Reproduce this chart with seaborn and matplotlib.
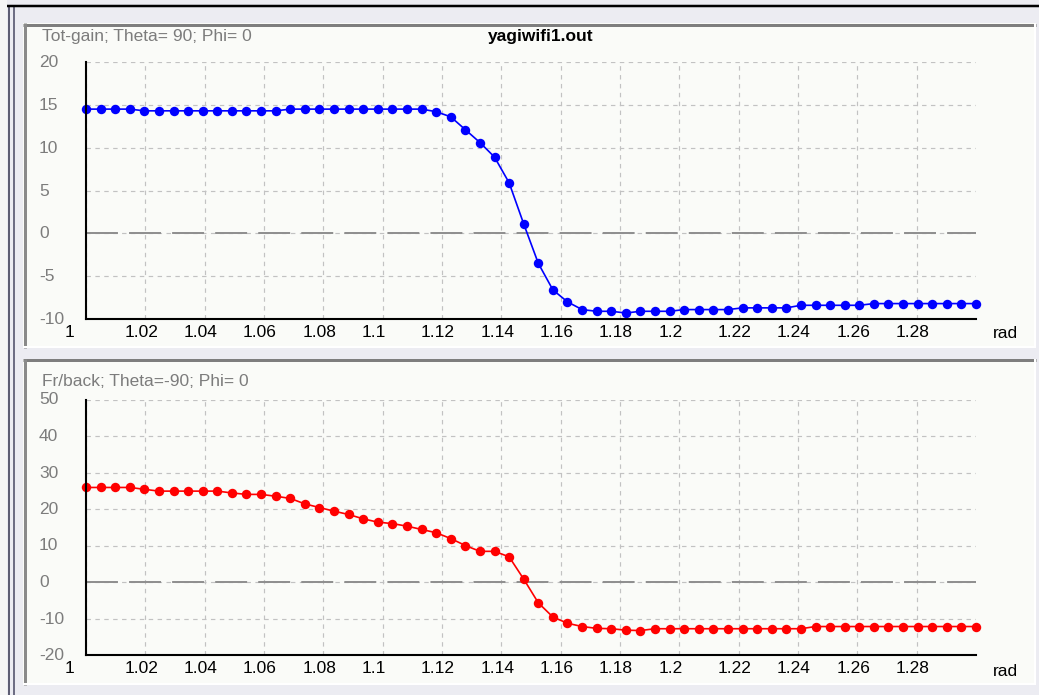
import numpy as np
import matplotlib
matplotlib.use("Agg")
import matplotlib.pyplot as plt
import matplotlib.transforms as mtransforms
from matplotlib.patches import Rectangle
from matplotlib.lines import Line2D
import seaborn as sns

# Sweep of the antenna parameter (rad) and the two computed responses
sweep_start = 1.0
sweep_stop = 1.3

tot_gain = [
    14.5, 14.5, 14.5, 14.5, 14.3, 14.3, 14.3, 14.3, 14.3, 14.3,
    14.3, 14.3, 14.3, 14.3, 14.5, 14.5, 14.5, 14.5, 14.5, 14.5,
    14.5, 14.5, 14.5, 14.5, 14.2, 13.6, 12.1, 10.6, 8.9, 5.9,
    1.1, -3.5, -6.6, -8.0, -8.9, -9.1, -9.1, -9.3, -9.1, -9.1,
    -9.1, -8.9, -8.9, -8.9, -8.9, -8.7, -8.7, -8.7, -8.7, -8.4,
    -8.4, -8.4, -8.4, -8.4, -8.2, -8.2, -8.2, -8.2, -8.2, -8.2,
    -8.2, -8.2,
]

front_back = [
    25.9, 25.9, 25.9, 25.9, 25.4, 24.9, 24.9, 24.9, 24.9, 24.9,
    24.4, 24.0, 24.0, 23.5, 22.9, 21.4, 20.4, 19.4, 18.5, 17.3,
    16.4, 16.0, 15.3, 14.4, 13.5, 11.9, 10.0, 8.4, 8.4, 6.9,
    0.8, -5.7, -9.6, -11.3, -12.2, -12.7, -12.8, -13.2, -13.3, -12.8,
    -12.8, -12.8, -12.8, -12.8, -12.8, -12.8, -12.8, -12.8, -12.8, -12.8,
    -12.2, -12.2, -12.2, -12.2, -12.2, -12.2, -12.2, -12.2, -12.2, -12.2,
    -12.2, -12.2,
]

x_ticks = [1.0, 1.02, 1.04, 1.06, 1.08, 1.1, 1.12, 1.14, 1.16, 1.18,
           1.2, 1.22, 1.24, 1.26, 1.28]
x_tick_labels = ["1", "1.02", "1.04", "1.06", "1.08", "1.1", "1.12", "1.14",
                 "1.16", "1.18", "1.2", "1.22", "1.24", "1.26", "1.28"]
gain_ticks = [-10, -5, 0, 5, 10, 15, 20]
fb_ticks = [-20, -10, 0, 10, 20, 30, 40, 50]

file_title = "yagiwifi1.out"
gain_caption = "Tot-gain; Theta= 90; Phi= 0"
fb_caption = "Fr/back; Theta=-90; Phi= 0"
unit_label = "rad"

sweep = np.linspace(sweep_start, sweep_stop, len(tot_gain))

sns.set_theme(style="white")
plt.rcParams["font.family"] = ["Liberation Sans", "DejaVu Sans"]
plt.rcParams["lines.scale_dashes"] = False

W, H = 1039, 695
DPI = 100
fig = plt.figure(figsize=(W / DPI, H / DPI), dpi=DPI)
fig.patch.set_facecolor("#ECECF2")

FS = 12.5
GRAY_TXT = "#7C7C7C"


def fx(x):
    return x / W


def fy(y):
    return 1 - y / H


def hline(x0, x1, y, color, lw):
    fig.add_artist(Line2D([fx(x0), fx(x1)], [fy(y), fy(y)], color=color,
                          lw=lw * 0.72, transform=fig.transFigure, zorder=-5,
                          solid_capstyle="butt"))


def vline(x, y0, y1, color, lw):
    fig.add_artist(Line2D([fx(x), fx(x)], [fy(y0), fy(y1)], color=color,
                          lw=lw * 0.72, transform=fig.transFigure, zorder=-5,
                          solid_capstyle="butt"))


def panel(x0, y0, x1, y1):
    fig.add_artist(Rectangle((fx(x0), fy(y1)), fx(x1) - fx(x0), fy(y0) - fy(y1),
                             transform=fig.transFigure, facecolor="#FAFBF8",
                             edgecolor="none", zorder=-6))
    hline(x0, x1, y0 + 1.5, "#7E7E7E", 3)
    vline(x0 + 1.5, y0, y1, "#8A8A8A", 3)
    hline(x0, x1, y1 - 1, "#FFFFFF", 2)
    vline(x1 - 1, y0, y1, "#FFFFFF", 2)


# window frame
fig.add_artist(Rectangle((0, 0), fx(7), 1, transform=fig.transFigure,
                         facecolor="#F6F6F6", edgecolor="none", zorder=-7))
vline(9, 6, H, "#5E5E74", 2)
vline(13.5, 6, H, "#6E6E84", 2)
hline(7, W, 6, "#000000", 2.5)

panel(23, 23, 1036, 348)
panel(23, 359, 1036, 685)


def setup_axes(rect_px, ylim, yticks):
    x0, y0, x1, y1 = rect_px
    ax = fig.add_axes([fx(x0), fy(y1), fx(x1) - fx(x0), fy(y0) - fy(y1)])
    ax.set_facecolor("none")
    ax.set_xlim(sweep_start, sweep_stop)
    ax.set_ylim(*ylim)
    ax.set_xticks(x_ticks, x_tick_labels)
    ax.set_yticks(yticks, [str(t) for t in yticks])
    for side in ("top", "right"):
        ax.spines[side].set_visible(False)
    for side in ("left", "bottom"):
        ax.spines[side].set_color("black")
        ax.spines[side].set_linewidth(1.5)
        ax.spines[side].set_zorder(6)
    ax.grid(True, color="#C2C2C2", lw=0.85, linestyle=(0, (3.2, 3.2)))
    ax.axhline(0, color="#8E8E8E", lw=1.4, linestyle=(0, (23, 8)), zorder=2)
    ax.tick_params(axis="both", length=0, labelsize=FS)
    ax.tick_params(axis="x", pad=4.5, labelcolor="black")
    ax.tick_params(axis="y", pad=47 * 0.72, labelcolor=GRAY_TXT)
    xshift = mtransforms.ScaledTranslation(-21 / DPI, 0, fig.dpi_scale_trans)
    for lbl in ax.get_xticklabels():
        lbl.set_horizontalalignment("left")
        lbl.set_transform(lbl.get_transform() + xshift)
    yshift = mtransforms.ScaledTranslation(0, 1 / DPI, fig.dpi_scale_trans)
    for lbl in ax.get_yticklabels():
        lbl.set_horizontalalignment("left")
        lbl.set_transform(lbl.get_transform() + yshift)
    return ax


ax_gain = setup_axes((86, 62, 976, 319), (-10, 20), gain_ticks)
ax_fb = setup_axes((86, 399.5, 976, 655), (-20, 50), fb_ticks)

sns.lineplot(x=sweep, y=tot_gain, ax=ax_gain, color="#0000FF", lw=1.2,
             marker="o", markersize=6.8, markeredgewidth=0, clip_on=False,
             zorder=5)
sns.lineplot(x=sweep, y=front_back, ax=ax_fb, color="#FF0000", lw=1.2,
             marker="o", markersize=6.8, markeredgewidth=0, clip_on=False,
             zorder=5)
for ax in (ax_gain, ax_fb):
    ax.set_xlabel("")
    ax.set_ylabel("")

fig.text(fx(42), fy(37), gain_caption, color=GRAY_TXT, fontsize=FS,
         ha="left", va="center")
fig.text(fx(541), fy(37), file_title, color="black", fontsize=FS,
         fontweight="bold", ha="center", va="center")
fig.text(fx(42), fy(382), fb_caption, color=GRAY_TXT, fontsize=FS,
         ha="left", va="center")
fig.text(fx(993), fy(334), unit_label, color="black", fontsize=FS,
         ha="left", va="center")
fig.text(fx(993), fy(672), unit_label, color="black", fontsize=FS,
         ha="left", va="center")

fig.savefig("out.png", dpi=DPI, facecolor=fig.get_facecolor())
